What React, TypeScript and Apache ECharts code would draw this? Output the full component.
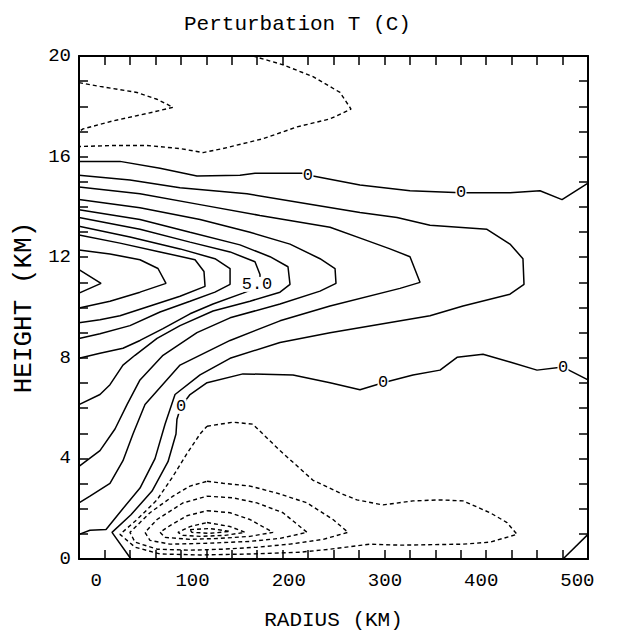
import React, { useEffect, useRef } from "react";
import * as echarts from "echarts";

type P = [number, number];

const TITLE = "Perturbation T (C)";
const X_NAME = "RADIUS (KM)";
const Y_NAME = "HEIGHT (KM)";
const X_MIN = -18;
const X_MAX = 511;
const Y_MIN = 0;
const Y_MAX = 20;
const X_LABELS = [0, 100, 200, 300, 400, 500];
const Y_LABELS = [0, 4, 8, 12, 16, 20];
const X_TICK_STEP = 26.45; // grid spacing (km)

// ---- negative (dashed) contours aloft ----
const NEG_TOP_A: P[] = [[-18, 18.94], [3.8, 18.79], [42.3, 18.55], [63.1, 18.28], [79.7, 17.96], [58.9, 17.77], [17.3, 17.42], [-13.8, 17.1], [-18, 17.0]];
const NEG_TOP_B: P[] = [[162.8, 20], [194, 19.65], [225.2, 19.18], [253.3, 18.55], [264.7, 17.89], [242.9, 17.5], [208.6, 17.18], [173.2, 16.71], [131.7, 16.32], [110.9, 16.16], [87, 16.32], [52.7, 16.44], [17.3, 16.44], [-18, 16.4]];

// ---- zero contours ----
const ZERO_TOP: P[] = [[-18, 15.81], [24.6, 15.81], [66.2, 15.54], [104.6, 15.23], [149.3, 15.26], [164.9, 15.34], [213.8, 15.34], [225.2, 15.23], [274, 14.87], [326, 14.64], [379, 14.56], [430, 14.56], [461.1, 14.64], [484, 14.29], [511, 14.95]];
const ZERO_LOW: P[] = [[511, 7.12], [485, 7.63], [458, 7.51], [429.9, 7.83], [401.9, 8.14], [374.9, 8.02], [357.2, 7.51], [329.1, 7.32], [298, 7.01], [274, 6.73], [242.9, 7.01], [204.4, 7.32], [152.4, 7.36], [115.1, 7.01], [97.4, 6.54], [88, 6.07], [83.8, 5.56], [82.8, 4.97], [74.5, 3.87], [57.9, 2.7], [36, 1.76], [16.3, 1.06], [36, 0]];
const ZERO_CORNER: P[] = [[485, 0], [511, 0.98]];

// ---- positive contours (1 C interval) ----
const POS_1: P[] = [[-18, 15.26], [35, 15.07], [87, 14.76], [156.6, 14.52], [225.2, 14.09], [274, 13.78], [312.5, 13.58], [346.8, 13.27], [406, 13.11], [429.9, 12.52], [443.4, 11.94], [444.5, 10.92], [429.9, 10.53], [381.1, 10.06], [346.8, 9.67], [242.9, 9.0], [190.9, 8.61], [139, 7.98], [107.8, 7.32], [81.8, 6.54], [71.4, 5.36], [61, 3.99], [45.4, 2.82], [26.7, 1.96], [10.1, 1.17], [-6.6, 1.14], [-18, 0.98]];
const POS_2: P[] = [[-18, 14.79], [45.4, 14.52], [107.8, 14.09], [170.1, 13.66], [242.9, 13.19], [277.2, 12.72], [305.2, 12.33], [326, 12.02], [336.4, 11.0], [315.6, 10.76], [242.9, 10.06], [190.9, 9.47], [139, 8.69], [87, 7.71], [50.6, 6.14], [38.1, 4.97], [27.7, 3.91], [14.2, 3.01], [-6.6, 2.5], [-18, 2.23]];
const POS_3: P[] = [[-18, 14.29], [45.4, 13.97], [107.8, 13.5], [159.7, 12.99], [201.3, 12.52], [232.5, 11.94], [248.1, 11.55], [249.1, 10.96], [232.5, 10.65], [190.9, 10.14], [139, 9.59], [104.6, 9.0], [69.3, 8.1], [45.4, 7.12], [31.9, 6.14], [19.4, 5.17], [3.8, 4.31], [-18, 3.68]];
const POS_4: P[] = [[-18, 13.89], [45.4, 13.5], [97.4, 12.99], [149.3, 12.49], [180.5, 12.02], [199.2, 11.62], [201.3, 10.92], [190.9, 10.61], [159.7, 10.25], [121.3, 9.86], [87, 9.28], [63.1, 8.77], [40.2, 8.1], [27.7, 7.71], [14.2, 6.93], [3.8, 6.54], [-18, 6.14]];
const POS_5: P[] = [[-18, 13.58], [45.4, 13.11], [97.4, 12.6], [139, 12.21], [164.9, 11.82], [170.1, 11.31], [170.1, 10.84], [152.4, 10.57], [121.3, 10.14], [97.4, 9.75], [69.3, 9.16], [45.4, 8.69], [27.7, 8.38], [3.8, 8.18], [-18, 7.98]];
const POS_6: P[] = [[-18, 13.23], [35, 12.8], [87, 12.33], [123.3, 11.94], [139, 11.55], [139, 10.92], [123.3, 10.61], [97.4, 10.25], [66.2, 9.82], [35, 9.28], [3.8, 8.96], [-18, 8.77]];
const POS_7: P[] = [[-18, 12.88], [24.6, 12.56], [66.2, 12.21], [102.6, 11.9], [111.9, 11.43], [113, 10.84], [87, 10.45], [55.8, 10.06], [24.6, 9.67], [3.8, 9.51], [-18, 9.39]];
const POS_8: P[] = [[-18, 12.29], [14.2, 12.13], [45.4, 11.9], [64.1, 11.55], [72.4, 10.96], [45.4, 10.61], [14.2, 10.25], [-18, 9.98]];
const POS_9: P[] = [[-18, 11.51], [4.9, 10.96], [-18, 10.57]];

// ---- negative (dashed) contours of the low-level cold pool ----
const NEG_1: P[] = [[115.1, 5.28], [142.1, 5.44], [162.7, 5.36], [190.9, 4.31], [225.2, 3.13], [253.3, 2.62], [270.9, 2.35], [298, 2.15], [329.1, 2.31], [357.2, 2.35], [381.1, 2.31], [409.2, 1.84], [426.8, 1.45], [437.2, 0.98], [409.2, 0.67], [381.1, 0.59], [315.6, 0.55], [284.4, 0.59], [242.9, 0.39], [211.7, 0.27], [159.7, 0.2], [107.8, 0.16], [66.2, 0.2], [40.2, 0.47], [24.6, 0.98], [42.3, 1.57], [63.1, 2.35], [79.7, 3.29], [94.2, 4.19], [107.8, 4.97], [115.1, 5.28]];
const NEG_2: P[] = [[115.1, 3.09], [131.7, 3.01], [159.7, 2.9], [187.8, 2.62], [219, 2.23], [246, 1.57], [261.6, 1.06], [235.6, 0.78], [201.3, 0.59], [166.9, 0.47], [131.7, 0.39], [97.4, 0.35], [63.1, 0.39], [40.2, 0.67], [35, 1.06], [55.8, 1.84], [79.7, 2.5], [97.4, 2.9], [115.1, 3.09]];
const NEG_3: P[] = [[115.1, 2.5], [142.1, 2.43], [167, 2.23], [194, 1.84], [219, 1.06], [190.9, 0.82], [159.7, 0.7], [118.2, 0.63], [76.6, 0.59], [55.8, 0.74], [50.6, 1.06], [63.1, 1.57], [90.1, 2.23], [115.1, 2.5]];
const NEG_4: P[] = [[115.1, 1.92], [139, 1.84], [159.7, 1.57], [183.6, 1.06], [159.7, 0.9], [128.5, 0.82], [97.4, 0.78], [71.4, 0.86], [66.2, 1.06], [76.6, 1.33], [94.2, 1.72], [115.1, 1.92]];
const NEG_5: P[] = [[115.1, 1.45], [139, 1.29], [154.5, 1.06], [133.7, 0.94], [107.8, 0.9], [90.1, 0.94], [84.9, 1.06], [97.4, 1.29], [115.1, 1.45]];
const NEG_6: P[] = [[97.4, 1.17], [118.2, 1.21], [139, 1.1], [118.2, 1.02], [99.3, 1.06], [97.4, 1.17]];

const SOLID_LINES = [ZERO_TOP, ZERO_LOW, ZERO_CORNER, POS_1, POS_2, POS_3, POS_4, POS_5, POS_6, POS_7, POS_8, POS_9];
const DASHED_LINES = [NEG_TOP_A, NEG_TOP_B, NEG_1, NEG_2, NEG_3, NEG_4, NEG_5, NEG_6];

// contour labels
const LABEL_TEXT = ["0", "0", "0", "0", "0", "5.0"];
const LABEL_POS: P[] = [[219.9, 15.26], [379, 14.56], [88, 6.07], [298, 7.01], [485, 7.63], [167, 10.92]];

const FONT = "'Liberation Mono', 'DejaVu Sans Mono', monospace";

export default function App() {
  const ref = useRef<HTMLDivElement>(null);
  useEffect(() => {
    if (!ref.current) return;
    const chart = echarts.init(ref.current, null, { renderer: "svg" });
    const xTicks: number[] = [];
    for (let k = 1; k < 20; k++) xTicks.push(X_MIN + k * X_TICK_STEP);
    const yTicks: number[] = [];
    for (let v = Y_MIN + 1; v < Y_MAX; v++) yTicks.push(v);

    const axisLine = { show: true, onZero: false, lineStyle: { color: "#000", width: 2 } };
    const tick = { show: true, inside: true, length: 9, lineStyle: { color: "#000", width: 1.5 } };

    const series: any[] = [];
    SOLID_LINES.forEach((d) =>
      series.push({
        type: "line", data: d, showSymbol: false, symbol: "none", silent: true,
        lineStyle: { color: "#000", width: 1.5, type: "solid" }, z: 2,
      })
    );
    DASHED_LINES.forEach((d) =>
      series.push({
        type: "line", data: d, showSymbol: false, symbol: "none", silent: true,
        lineStyle: { color: "#000", width: 1.4, type: [4, 3] }, z: 2,
      })
    );
    series.push({
      type: "scatter",
      symbol: "rect",
      silent: true,
      z: 5,
      itemStyle: { color: "#fff", opacity: 1 },
      data: LABEL_POS.map((p, i) => ({
        value: p,
        name: LABEL_TEXT[i],
        symbolSize: LABEL_TEXT[i].length > 1 ? [30, 15] : [11, 15],
      })),
      label: {
        show: true, position: "inside", formatter: "{b}", color: "#000",
        fontFamily: FONT, fontSize: 17, textBorderWidth: 0, opacity: 1,
      },
    });

    chart.setOption({
      animation: false,
      backgroundColor: "#fff",
      title: {
        text: TITLE, left: 179, top: 9,
        textStyle: { fontFamily: FONT, fontSize: 21, fontWeight: "normal", color: "#000" },
      },
      grid: { left: 79, top: 56, width: 509, height: 511, containLabel: false },
      xAxis: [
        {
          type: "value", min: X_MIN, max: X_MAX, position: "bottom",
          name: X_NAME, nameLocation: "middle", nameGap: 51,
          nameTextStyle: { fontFamily: FONT, fontSize: 21, color: "#000" },
          axisLine, axisTick: { ...tick, customValues: xTicks },
          axisLabel: { customValues: X_LABELS, fontFamily: FONT, fontSize: 19, color: "#000", margin: 12 },
          splitLine: { show: false },
        },
        {
          type: "value", min: X_MIN, max: X_MAX, position: "top",
          axisLine, axisTick: { ...tick, customValues: xTicks },
          axisLabel: { show: false }, splitLine: { show: false },
        },
      ],
      yAxis: [
        {
          type: "value", min: Y_MIN, max: Y_MAX, position: "left",
          name: Y_NAME, nameLocation: "middle", nameGap: 41, nameRotate: 90,
          nameTextStyle: { fontFamily: FONT, fontSize: 26, color: "#000" },
          axisLine, axisTick: { ...tick, customValues: yTicks },
          axisLabel: { customValues: Y_LABELS, fontFamily: FONT, fontSize: 19, color: "#000", margin: 8 },
          splitLine: { show: false },
        },
        {
          type: "value", min: Y_MIN, max: Y_MAX, position: "right",
          axisLine, axisTick: { ...tick, customValues: yTicks },
          axisLabel: { show: false }, splitLine: { show: false },
        },
      ],
      series,
    });
    return () => chart.dispose();
  }, []);
  return (
    <div
      ref={ref}
      style={{ position: "fixed", left: 0, top: 0, width: 617, height: 636, background: "#fff" }}
    />
  );
}
